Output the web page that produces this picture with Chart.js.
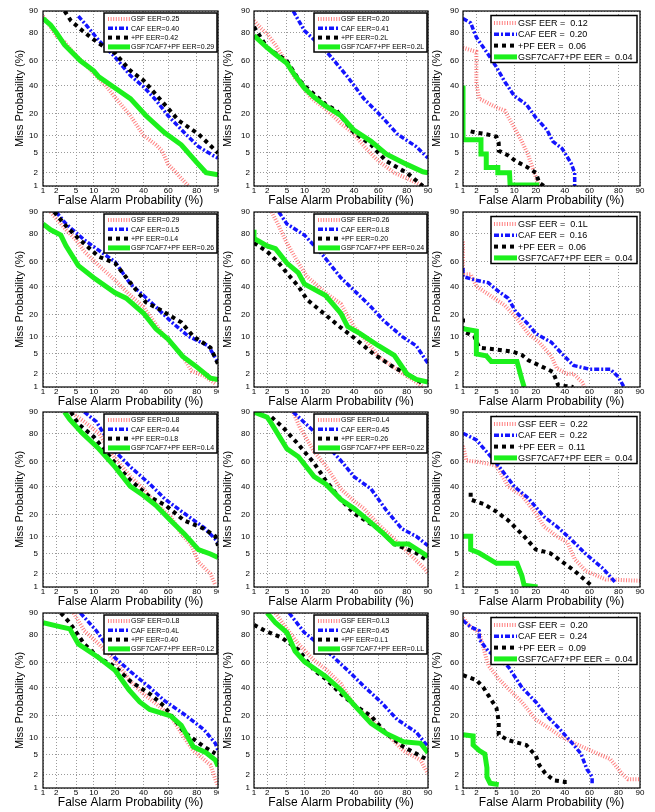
<!DOCTYPE html>
<html><head><meta charset="utf-8">
<script src="https://cdn.jsdelivr.net/npm/chart.js@4.4.1/dist/chart.umd.min.js"></script>
<style>
html,body{margin:0;padding:0;background:#fff;width:655px;height:812px;overflow:hidden;position:relative}
canvas{position:absolute}
</style></head><body>
<script>
// ---------- axis ticks (percent) ----------
const TICKS = [1,2,5,10,20,40,60,80,90];
const X_TITLE = 'False Alarm Probability (%)';
const Y_TITLE = 'Miss Probability (%)';

// ---------- data: [false alarm %, miss %] ----------
const A_GSF = [[1,88],[1.5,83],[2,78],[3,74],[5,64],[7,58],[10,50],[15,40],[20,31],[30,19],[40,10],[50,7],[55,5.5],[60,3],[65,2.2],[70,1.5],[75,1]];
const A_CAF = [[5.5,88],[8,83],[12,75],[20,63],[30,48],[40,39],[50,29],[60,19],[73,10.5],[81,6.5],[88,4.5],[90,4]];
const A_PF  = [[3,90],[4,86],[7,80],[12,73],[20,66],[30,52],[40,44],[52,31],[68,16.5],[81,10.5],[90,5]];
const A_FUS = [[1,87],[1.5,84],[2,80],[3,72],[6,60],[10,52],[12,47],[20,38],[30,30],[42,19],[57,11],[70,7],[80,3.3],[85,2],[90,1.8]];
const A_LABELS = ['GSF EER=0.25','CAF EER=0.40','+PF EER=0.42','GSF7CAF7+PF EER=0.29'];

const B_GSF = [[1,86],[1.5,82],[2,79],[3,72],[5,58],[7,46],[10,37],[13,30],[20,23],[30,15],[40,10.5],[50,6],[60,3.5],[72,2],[85,1.2],[88,1]];
const B_CAF = [[6.5,90],[10,81],[20,68],[35,47],[48,30],[62,19],[74,10.5],[85,6.5],[90,4]];
const B_PF  = [[1,83],[2,70],[5,60],[8,45],[11,38],[20,26],[27,22],[40,11],[54,7],[66,3.5],[80,2],[88,1]];
const B_FUS = [[1,78],[2,70],[3,65],[5,58],[7,48],[10,38],[14,31],[20,25],[30,19],[40,12],[54,8],[66,4.8],[80,3],[88,2.1],[90,2]];
const B_LABELS = ['GSF EER=0.20','CAF EER=0.41','+PF EER=0.2L','GSF7CAF7+PF EER=0.2L'];

const C_GSF = [[1,70],[2,67],[2,41],[2.3,30],[5,24],[7,22],[10.5,12],[13,8],[16,4.5],[18,2.7],[20,1.6],[22,1]];
const C_CAF = [[1,87],[1.5,85],[2,77],[3.5,65],[5,55],[7,43],[10,32],[15,26],[20,18],[27,12],[31,8],[38,6],[45,3.2],[48,2],[48,1]];
const C_PF  = [[1.5,11.5],[2,11],[3,10.5],[4,10],[5,9.5],[5.5,7.5],[5.5,5.5],[8,4.5],[10.5,3.5],[15,2.7],[20,2],[22,1.2],[25,1]];
const C_FUS = [[1,40],[1,8.5],[2.5,8.5],[2.5,4.8],[3.2,4.8],[3.2,2.6],[5.3,2.6],[5.3,2],[8.4,2],[8.6,1.05],[22,1.05]];
const C_LABELS = ['GSF EER =  0.12','CAF EER =  0.20','+PF EER =  0.06','GSF7CAF7+PF EER =  0.04'];

const D_GSF = [[1.5,90],[3.2,82],[5,76],[7,68],[12,57],[20,45],[30,33],[40,25],[50,15],[57,10],[70,5],[77,2.3],[84,1.8],[89,1.2]];
const D_CAF = [[2,90],[3.2,85],[7,76],[20,60],[30,42],[40,33],[50,25],[63,16],[75,10],[86,7],[90,3.5]];
const D_PF  = [[1.8,90],[3.2,84],[5.5,77],[12,64],[20,59],[30,43],[42,28],[54,23],[70,16],[78,10],[87,6.5],[90,3.2]];
const D_FUS = [[1,85],[1.5,82],[2.5,79],[3.2,72],[5.5,57],[10,47],[20,35],[27,31],[40,21],[50,13],[60,9],[71,4.5],[80,2.8],[87,1.6],[90,1.5]];
const D_LABELS = ['GSF EER=0.29','CAF EER=0.L5','+PF EER=0.L4','GSF7CAF7+PF EER=0.26'];

const E_GSF = [[2.5,90],[3.5,84],[5,74],[8,59],[11,48],[20,35],[30,27],[40,14],[50,8.5],[60,4.5],[72,2.7],[85,1.3],[88,1]];
const E_CAF = [[3.5,90],[5,85],[10,79],[18,66],[30,47],[40,37],[54,25],[64,17],[77,10],[85,7],[90,3.3]];
const E_PF  = [[1,74],[2,68],[3.5,59],[5,51],[8,40],[11,30],[20,20],[30,13.5],[40,9.5],[56,5],[72,2.7],[80,2],[88,1.2]];
const E_FUS = [[1,82],[1,77],[2,72],[3,70],[5,59],[8,51],[10,42],[20,33],[30,21],[35,14],[45,11],[60,7],[72,4.7],[80,2],[85,1.5],[90,1.3]];
const E_LABELS = ['GSF EER=0.26','CAF EER=0.L8','+PF EER=0.20','GSF7CAF7+PF EER=0.24'];

const F_GSF = [[1,75],[1,50],[1.5,50],[2,40],[3.5,34],[7,26],[10.5,19],[16,11],[22,8],[30,4.5],[34,2.6],[42,2],[47,2],[54,1.3],[56,1]];
const F_CAF = [[1,55],[1,48],[2,45],[3.5,43],[5.5,36],[8,31],[10.5,22],[16,15],[20,11],[30,8],[38,5],[47,3],[60,2.5],[75,2.5],[80,1.7],[83,1]];
const F_PF  = [[1,18],[1,12],[1.8,10],[2.3,6.5],[5,6],[9.5,5.5],[13,4.8],[16,3.8],[22,3],[31,2.2],[35,1.1],[47,1]];
const F_FUS = [[1,13],[2,12],[2,5],[3.2,4.6],[4,3.6],[11,3.6],[13,1.5],[14,1]];
const F_LABELS = ['GSF EER =  0.1L','CAF EER =  0.16','+PF EER =  0.06','GSF7CAF7+PF EER =  0.04'];

const G_GSF = [[4,90],[7,86],[12,80],[20,63],[30,48],[40,38],[50,27],[62,19],[70,11],[77,7],[81,3.5],[87,2],[89,1.1]];
const G_CAF = [[7,90],[11,86],[20,68],[30,56],[45,42],[58,30],[72,21],[84,13.5],[89,9],[90,8]];
const G_PF  = [[4,90],[5.5,85],[10,78],[20,59],[30,45],[45,32],[58,26],[72,17],[84,13],[89,10],[90,7]];
const G_FUS = [[3,90],[3.8,87],[6.5,80],[12,70],[20,56],[30,40],[40,33],[50,26],[62,17],[72,11],[81,6],[87,5],[90,4.3]];
const G_LABELS = ['GSF EER=0.L8','CAF EER=0.44','+PF EER=0.L8','GSF7CAF7+PF EER=0.L4'];

const H_GSF = [[6.5,90],[8.5,83],[14,68],[20,57],[30,38],[40,29],[48,24],[60,15],[72,9],[81,5.2],[88,2.8],[90,2.1]];
const H_CAF = [[6.5,90],[14,81],[30,61],[40,48],[54,38],[66,23],[77,13],[85,10],[90,7]];
const H_PF  = [[2.5,88],[4.3,83],[8,73],[14,59],[20,45],[30,30],[40,21],[60,13],[72,7.5],[85,5.2],[90,3.7]];
const H_FUS = [[1,90],[2,88],[2.5,85],[5,70],[8,64],[14,48],[20,42],[30,30],[40,24],[50,18],[64,11],[72,7.5],[81,7.5],[90,4.5]];
const H_LABELS = ['GSF EER=0.L4','CAF EER=0.45','+PF EER=0.26','GSF7CAF7+PF EER=0.22'];

const I_GSF = [[1,72],[1.2,61],[2.3,60],[5,57],[8,40],[13,33],[20,21],[25,14],[34,10],[42,8],[48,4],[57,2.3],[72,1.5],[90,1.4]];
const I_CAF = [[1,80],[2,76],[5,59],[10,40],[16,31],[25,19],[34,14],[45,9],[57,5],[70,2.6],[78,1.3]];
const I_PF  = [[1.5,35],[1.5,30],[2.8,27],[5,22],[8,17],[14,10],[20,6],[29,5.2],[39,3.4],[48,2.3],[57,1.4],[63,1]];
const I_FUS = [[1,10],[1.5,10],[1.5,6],[2.3,5.2],[5,3.3],[11,3.3],[13,1.8],[14,1.1],[21,1]];
const I_LABELS = ['GSF EER =  0.22','CAF EER =  0.22','+PF EER =  0.11','GSF7CAF7+PF EER =  0.04'];

const J_GSF = [[4.5,90],[7,82],[12,74],[20,62],[30,45],[40,35],[50,28],[62,20],[72,10],[78,6],[87,3.2],[89,1.6],[90,1.1]];
const J_CAF = [[6,90],[11,82],[20,64],[30,53],[45,40],[57,30],[72,21],[84,13],[89,8],[90,6]];
const J_PF  = [[2.5,90],[3.8,86],[7,74],[12,64],[20,57],[30,45],[45,35],[57,26],[72,12],[84,7],[89,5.3]];
const J_FUS = [[1,86],[2.5,84],[3.8,83],[5.5,74],[12,64],[20,54],[29,38],[37,29],[45,24],[62,20],[70,15],[78,7],[85,5.5],[89,4],[90,3]];
const J_LABELS = ['GSF EER=0.L8','CAF EER=0.4L','+PF EER=0.40','GSF7CAF7+PF EER=0.L2'];

const K_GSF = [[3,90],[5,83],[8,74],[14,62],[20,55],[30,43],[40,27],[54,18],[66,11.5],[78,6],[87,4],[90,2.1]];
const K_CAF = [[5.5,90],[10,81],[20,70],[35,54],[48,41],[62,29],[74,18],[85,12],[90,7]];
const K_PF  = [[1,85],[1.8,82],[4,78],[8,70],[14,54],[20,47],[30,35],[40,27],[54,20],[66,11.5],[78,7],[90,4]];
const K_FUS = [[2,90],[3,86],[5,81],[7,69],[10,61],[20,49],[30,38],[40,27],[54,16],[66,11.5],[78,8.5],[87,8],[90,5.5]];
const K_LABELS = ['GSF EER=0.L3','CAF EER=0.45','+PF EER=0.L1','GSF7CAF7+PF EER=0.LL'];

const L_GSF = [[1,88],[1.5,84],[2.3,81],[3.5,58],[5.5,47],[8,39],[13,29],[20,18],[30,13],[38,10],[54,7],[66,5.3],[75,4.2],[82,2.1],[85,1.6],[90,1.6]];
const L_CAF = [[1,87],[1.5,84],[2.3,82],[2.3,77],[3.5,69],[8,57],[13,40],[20,29],[27,20],[35,14],[44,9],[53,5.3],[58,2.6],[62,1.8],[62,1.2]];
const L_PF  = [[1,50],[2,46],[2.8,40],[3.5,34],[5,25],[5.5,17],[5.5,11],[8,9],[15,7.5],[20,4.8],[22,3.2],[26,2.1],[32,1.5],[40,1.4],[40,1]];
const L_FUS = [[1,11],[1.7,10.5],[1.7,7.5],[2.3,6],[3,5.2],[3.3,2.8],[3.3,1.8],[3.8,1.3],[5.5,1.2]];
const L_LABELS = ['GSF EER =  0.20','CAF EER =  0.24','+PF EER =  0.09','GSF7CAF7+PF EER =  0.04'];

const PANELS = [
  {data:[A_GSF,A_CAF,A_PF,A_FUS], labels:A_LABELS},
  {data:[B_GSF,B_CAF,B_PF,B_FUS], labels:B_LABELS},
  {data:[C_GSF,C_CAF,C_PF,C_FUS], labels:C_LABELS},
  {data:[D_GSF,D_CAF,D_PF,D_FUS], labels:D_LABELS},
  {data:[E_GSF,E_CAF,E_PF,E_FUS], labels:E_LABELS},
  {data:[F_GSF,F_CAF,F_PF,F_FUS], labels:F_LABELS},
  {data:[G_GSF,G_CAF,G_PF,G_FUS], labels:G_LABELS},
  {data:[H_GSF,H_CAF,H_PF,H_FUS], labels:H_LABELS},
  {data:[I_GSF,I_CAF,I_PF,I_FUS], labels:I_LABELS},
  {data:[J_GSF,J_CAF,J_PF,J_FUS], labels:J_LABELS},
  {data:[K_GSF,K_CAF,K_PF,K_FUS], labels:K_LABELS},
  {data:[L_GSF,L_CAF,L_PF,L_FUS], labels:L_LABELS}
];

// ---------- styles / layout ----------
const STYLES = [
  {borderColor:'rgba(255,85,85,0.75)', borderWidth:4, borderDash:[1,1.6]},
  {borderColor:'#1414ff', borderWidth:3.5, borderDash:[5,2,2,2]},
  {borderColor:'#000000', borderWidth:4, borderDash:[4,4]},
  {borderColor:'#1cf01c', borderWidth:5, borderDash:[]}
];
const FONT = "'Liberation Sans', Arial, sans-serif";
const ROW_TOP = [11,212,412,613];
const PLOT_H = 175, PAD_TOP = 6, X_AXIS_H = 24;
const COLS = [
  {left:0,   yW:43, plotW:175, pr:6,  titlePad:13, tickPad:5, big:false, bg:null},
  {left:219, yW:35, plotW:174, pr:6,  titlePad:2,  tickPad:4, big:false, bg:'#ffffff'},
  {left:430, yW:33, plotW:177, pr:15, titlePad:0,  tickPad:4, big:true,  bg:null}
];

// ---------- normal-deviate (probit) scale ----------
function probit(p){
  const a=[-3.969683028665376e+01,2.209460984245205e+02,-2.759285104469687e+02,1.383577518672690e+02,-3.066479806614716e+01,2.506628277459239e+00];
  const b=[-5.447609879822406e+01,1.615858368580409e+02,-1.556989798598866e+02,6.680131188771972e+01,-1.328068155288572e+01];
  const c=[-7.784894002430293e-03,-3.223964580411365e-01,-2.400758277161838e+00,-2.549732539343734e+00,4.374664141464968e+00,2.938163982698783e+00];
  const d=[7.784695709041462e-03,3.224671290700398e-01,2.445134137142996e+00,3.754408661907416e+00];
  const pl=0.02425, ph=1-pl; let q,r;
  if(p<pl){q=Math.sqrt(-2*Math.log(p));return (((((c[0]*q+c[1])*q+c[2])*q+c[3])*q+c[4])*q+c[5])/((((d[0]*q+d[1])*q+d[2])*q+d[3])*q+1);}
  if(p<=ph){q=p-0.5;r=q*q;return (((((a[0]*r+a[1])*r+a[2])*r+a[3])*r+a[4])*r+a[5])*q/(((((b[0]*r+b[1])*r+b[2])*r+b[3])*r+b[4])*r+1);}
  q=Math.sqrt(-2*Math.log(1-p));return -(((((c[0]*q+c[1])*q+c[2])*q+c[3])*q+c[4])*q+c[5])/((((d[0]*q+d[1])*q+d[2])*q+d[3])*q+1);
}
function normcdf(z){
  const t=1/(1+0.2316419*Math.abs(z));
  const y=0.3989423*Math.exp(-z*z/2)*t*(0.3193815+t*(-0.3565638+t*(1.781478+t*(-1.821256+t*1.330274))));
  return z>0?1-y:y;
}
class ProbitScale extends Chart.LinearScale {
  static id = 'probit';
  buildTicks(){ return TICKS.filter(v=>v>=this.min&&v<=this.max).map(v=>({value:v})); }
  getPixelForValue(v){
    if(v===null||v===undefined) return NaN;
    const a=probit(this.min/100), b=probit(this.max/100);
    return this.getPixelForDecimal((probit(v/100)-a)/(b-a));
  }
  getValueForPixel(px){
    const a=probit(this.min/100), b=probit(this.max/100);
    return 100*normcdf(a+this.getDecimalForPixel(px)*(b-a));
  }
}
Chart.register(ProbitScale);

// ---------- plugins ----------
const bgPlugin = {id:'bg', beforeDraw(chart,args,opts){ if(!opts.color) return; const c=chart.ctx; c.save(); c.fillStyle=opts.color; c.fillRect(0,0,chart.width,chart.height); c.restore(); }};
const framePlugin = {id:'frame', afterDatasetsDraw(chart){ const {ctx,chartArea:a}=chart; ctx.save(); ctx.strokeStyle='#000'; ctx.lineWidth=1.2; ctx.setLineDash([]); ctx.strokeRect(a.left,a.top,a.right-a.left,a.bottom-a.top); ctx.restore(); }};
const legendPlugin = {id:'detLegend', afterDraw(chart,args,opts){
  const {ctx,chartArea:a}=chart;
  const L = opts.big ? {w:146,h:47,dx:3,dy:4.5,row0:7.5,rowH:11.3,sx:3,sw:23,tx:27,font:9}
                     : {w:113,h:39,dx:1,dy:2,row0:6,rowH:9.3,sx:4,sw:22,tx:27,font:7};
  const x0=a.right-L.dx-L.w, y0=a.top+L.dy;
  ctx.save();
  ctx.fillStyle='#fff'; ctx.fillRect(x0,y0,L.w,L.h);
  ctx.strokeStyle='#000'; ctx.lineWidth=1.5; ctx.setLineDash([]); ctx.strokeRect(x0,y0,L.w,L.h);
  chart.data.datasets.forEach((ds,i)=>{
    const y=y0+L.row0+i*L.rowH;
    ctx.save(); ctx.strokeStyle=ds.borderColor; ctx.lineWidth=ds.borderWidth; ctx.setLineDash(ds.borderDash||[]);
    ctx.beginPath(); ctx.moveTo(x0+L.sx,y); ctx.lineTo(x0+L.sx+L.sw,y); ctx.stroke(); ctx.restore();
    ctx.fillStyle='#000'; ctx.font=L.font+'px '+FONT; ctx.textBaseline='middle'; ctx.textAlign='left';
    ctx.fillText(ds.label,x0+L.tx,y+0.5);
  });
  ctx.restore();
}};

function zeroPad(s){ s.paddingTop=0; s.paddingBottom=0; s.paddingLeft=0; s.paddingRight=0; }

// ---------- build the 12 panels ----------
PANELS.forEach((p,i)=>{
  const row=Math.floor(i/3), col=i%3, C=COLS[col];
  const cv=document.createElement('canvas');
  const W=C.yW+C.plotW+C.pr, H=PAD_TOP+PLOT_H+X_AXIS_H;
  cv.width=W; cv.height=H;
  cv.style.left=C.left+'px'; cv.style.top=(ROW_TOP[row]-PAD_TOP)+'px';
  cv.style.width=W+'px'; cv.style.height=H+'px';
  document.body.appendChild(cv);
  const axisCommon = {
    type:'probit', min:1, max:90,
    grid:{color:'#9a9a9a', lineWidth:1, drawTicks:false},
    border:{display:false, dash:[1,2]}
  };
  new Chart(cv,{
    type:'line',
    data:{datasets:p.data.map((d,k)=>Object.assign({
      label:p.labels[k], data:d, order:4-k, pointRadius:0, tension:0, fill:false,
      borderCapStyle:'butt', borderJoinStyle:'miter'
    },STYLES[k]))},
    options:{
      responsive:false, animation:false, events:[], devicePixelRatio:1,
      layout:{padding:{top:PAD_TOP,right:C.pr,left:0,bottom:0}},
      plugins:{legend:{display:false}, tooltip:{enabled:false}, detLegend:{big:C.big}, bg:{color:C.bg}},
      scales:{
        x:Object.assign({},axisCommon,{
          ticks:{autoSkip:false,maxRotation:0,minRotation:0,padding:0,color:'#000',font:{size:8,family:FONT},callback:v=>String(v)},
          title:{display:true,text:X_TITLE,color:'#000',font:{size:12,family:FONT},padding:{top:0,bottom:2}},
          afterFit:s=>{s.height=X_AXIS_H; zeroPad(s);}
        }),
        y:Object.assign({},axisCommon,{
          ticks:{autoSkip:false,padding:C.tickPad,color:'#000',font:{size:8,family:FONT},callback:v=>String(v)},
          title:{display:true,text:Y_TITLE,color:'#000',font:{size:11,family:FONT},padding:{top:C.titlePad,bottom:0}},
          afterFit:s=>{s.width=C.yW; zeroPad(s);}
        })
      }
    },
    plugins:[bgPlugin,framePlugin,legendPlugin]
  });
});
</script>
</body></html>
